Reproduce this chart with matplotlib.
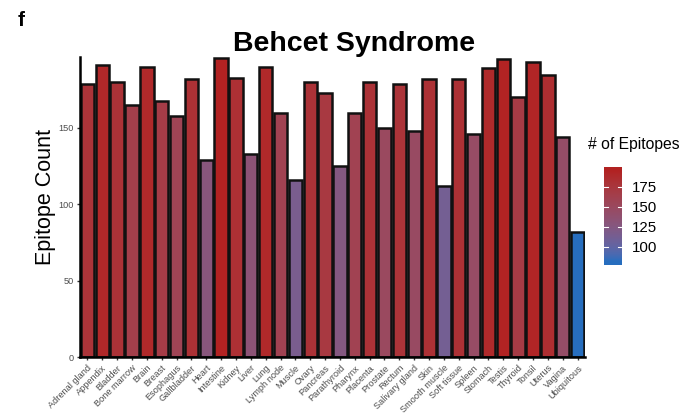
import numpy as np
import matplotlib
matplotlib.use("Agg")
import matplotlib.pyplot as plt
from matplotlib.colors import ListedColormap, Normalize

plt.rcParams['font.family'] = ['Liberation Sans', 'DejaVu Sans']

tissues = ["Adrenal gland", "Appendix", "Bladder", "Bone marrow", "Brain", "Breast",
           "Esophagus", "Gallbladder", "Heart", "Intestine", "Kidney", "Liver", "Lung",
           "Lymph node", "Muscle", "Ovary", "Pancreas", "Parathyroid", "Pharynx",
           "Placenta", "Prostate", "Rectum", "Salivary gland", "Skin", "Smooth muscle",
           "Soft tissue", "Spleen", "Stomach", "Testis", "Thyroid", "Tonsil", "Uterus",
           "Vagina", "Ubiquitous"]
epitopes = [179, 191, 180, 165, 190, 168, 158, 182, 129, 196, 183, 133, 190,
            160, 116, 180, 173, 125, 160, 180, 150, 179, 148, 182, 112,
            182, 146, 189, 195, 170, 193, 185, 144, 82]
cbar_ticks = [100, 125, 150, 175]

low_hex = "#276EBE"
high_hex = "#B22222"


# --- gradient interpolated in CIE Lab space ---
def _srgb_to_lin(c):
    return np.where(c <= 0.04045, c / 12.92, ((c + 0.055) / 1.055) ** 2.4)


def _lin_to_srgb(c):
    c = np.clip(c, 0, 1)
    return np.where(c <= 0.0031308, 12.92 * c, 1.055 * c ** (1 / 2.4) - 0.055)


M = np.array([[0.4124, 0.3576, 0.1805],
              [0.2126, 0.7152, 0.0722],
              [0.0193, 0.1192, 0.9505]])
Minv = np.linalg.inv(M)
WHITE = np.array([0.95047, 1.0, 1.08883])


def rgb_to_lab(rgb):
    xyz = M @ _srgb_to_lin(np.asarray(rgb)) / WHITE
    f = np.where(xyz > (6 / 29) ** 3, np.cbrt(xyz), xyz / (3 * (6 / 29) ** 2) + 4 / 29)
    return np.array([116 * f[1] - 16, 500 * (f[0] - f[1]), 200 * (f[1] - f[2])])


def lab_to_rgb(lab):
    L, a, b = lab
    fy = (L + 16) / 116
    fx = fy + a / 500
    fz = fy - b / 200
    f = np.array([fx, fy, fz])
    xyz = np.where(f > 6 / 29, f ** 3, 3 * (6 / 29) ** 2 * (f - 4 / 29)) * WHITE
    return _lin_to_srgb(Minv @ xyz)


lab_lo = rgb_to_lab(matplotlib.colors.to_rgb(low_hex))
lab_hi = rgb_to_lab(matplotlib.colors.to_rgb(high_hex))
cmap = ListedColormap([lab_to_rgb(lab_lo + t * (lab_hi - lab_lo)) for t in np.linspace(0, 1, 256)])
norm = Normalize(vmin=min(epitopes), vmax=max(epitopes), clip=True)

fig = plt.figure(figsize=(6.93, 4.15), dpi=100)
ax = fig.add_axes([80 / 693, 1 - 357 / 415, 505 / 693, 300 / 415])

x = np.arange(len(tissues))
ax.bar(x, epitopes, width=0.9, color=cmap(norm(np.array(epitopes))),
       edgecolor="#111111", linewidth=1.8, zorder=2)

ax.set_xlim(-0.5, len(tissues) - 0.5)
ax.set_ylim(0, max(epitopes) + 0.5)
ax.set_yticks([0, 50, 100, 150])
ax.set_xticks(x)
ax.set_xticklabels(tissues, rotation=45, ha="right", rotation_mode="anchor",
                   fontsize=6.6, color="#4D4D4D")
ax.tick_params(axis="y", labelsize=6.6, labelcolor="#4D4D4D", color="#333333",
               length=2.5, width=1, pad=2)
ax.tick_params(axis="x", color="#333333", length=2.5, width=1, pad=2)
for s in ["top", "right"]:
    ax.spines[s].set_visible(False)
for s in ["left", "bottom"]:
    ax.spines[s].set_linewidth(1.8)
    ax.spines[s].set_color("black")
ax.set_ylabel("Epitope Count", fontsize=15.5, va="center")
ax.yaxis.set_label_coords(-0.069, 0.532)

fig.text(354 / 693, 1 - 44 / 415, "Behcet Syndrome", fontsize=20.5, fontweight="bold",
         ha="center", va="center")
fig.text(18 / 693, 1 - 20 / 415, "f", fontsize=15, fontweight="bold", ha="left", va="center")

# colour legend drawn as a gradient strip
cb_lo, cb_hi = 77.5, 200
cax = fig.add_axes([604 / 693, 1 - 265 / 415, 18 / 693, 98 / 415])
grad = np.linspace(cb_lo, cb_hi, 300).reshape(-1, 1)
cax.imshow(cmap(norm(grad)), aspect="auto", origin="lower",
           extent=[0, 1, cb_lo, cb_hi], interpolation="bilinear")
cax.set_xlim(0, 1)
cax.set_ylim(cb_lo, cb_hi)
cax.set_xticks([])
cax.yaxis.tick_right()
cax.set_yticks(cbar_ticks)
cax.tick_params(axis="y", labelsize=10.8, length=0, pad=7)
for s in cax.spines.values():
    s.set_visible(False)
for t in cbar_ticks:
    cax.plot([0, 0.2], [t, t], color="white", lw=0.8)
    cax.plot([0.8, 1.0], [t, t], color="white", lw=0.8)
fig.text(588 / 693, 1 - 144 / 415, "# of Epitopes", fontsize=11.3, ha="left", va="center")

fig.savefig("out.png", dpi=100)
